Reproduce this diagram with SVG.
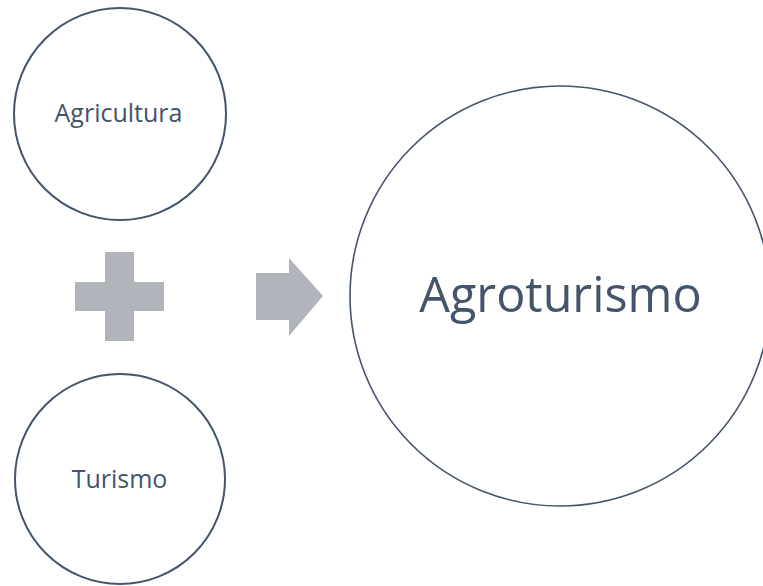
<svg xmlns="http://www.w3.org/2000/svg" width="763" height="586" viewBox="0 0 763 586">
<style>
.node{fill:#fff;stroke:#44546a;stroke-width:2}
.lbl{fill:#44546a;font-family:"Open Sans","Noto Sans",sans-serif;text-anchor:middle}
.sym{fill:#b1b4ba}
</style>
<rect width="763" height="586" fill="#fff"/>
<g id="agricultura">
<circle class="node" cx="120" cy="114" r="106"/>
<text class="lbl" x="118.5" y="122" font-size="25">Agricultura</text>
</g>
<g id="turismo">
<circle class="node" cx="120" cy="479" r="105"/>
<text class="lbl" x="119.5" y="488" font-size="25">Turismo</text>
</g>
<g id="agroturismo">
<circle class="node" cx="560" cy="296" r="210" style="stroke-width:1.6"/>
<text class="lbl" x="560.5" y="312" font-size="48.5">Agroturismo</text>
</g>
<g id="connectors">
<path class="sym" d="M105 252H134V282H164V311H134V341H105V311H75V282H105Z"/>
<path class="sym" d="M256 273H289V258L323 296L289 336V320H256Z"/>
</g>
</svg>
